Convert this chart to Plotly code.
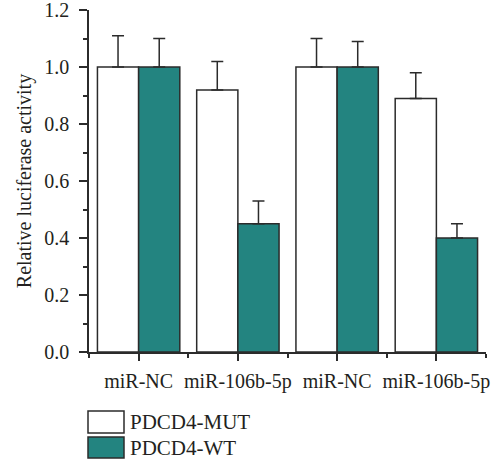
import plotly.graph_objects as go

categories = ["miR-NC", "miR-106b-5p", "miR-NC", "miR-106b-5p"]
mut_values = [1.0, 0.92, 1.0, 0.89]
mut_errors = [0.11, 0.10, 0.10, 0.09]
wt_values = [1.0, 0.45, 1.0, 0.40]
wt_errors = [0.10, 0.08, 0.09, 0.05]
series_names = ["PDCD4-MUT", "PDCD4-WT"]
y_ticks = [0.0, 0.2, 0.4, 0.6, 0.8, 1.0, 1.2]

TEAL = "#238480"
INK = "#231f20"
LINE = "#2b2b2b"
FONT = "Liberation Serif"

xpos = list(range(len(categories)))

fig = go.Figure()
for name, vals, errs, color in [
    (series_names[0], mut_values, mut_errors, "white"),
    (series_names[1], wt_values, wt_errors, TEAL),
]:
    fig.add_trace(go.Bar(
        x=xpos, y=vals, name=name, showlegend=False,
        marker=dict(color=color, line=dict(color=LINE, width=1.5)),
        error_y=dict(type="data", array=errs, arrayminus=[0] * len(errs),
                     symmetric=False, color=LINE, thickness=1.5, width=6),
    ))

W, H = 498, 464
L, R, T, B = 89, 12, 10, 112
pw, ph = W - L - R, H - T - B


def px_x(x):
    return (x - L) / pw


def px_y(y):
    return (H - B - y) / ph


# legend drawn as boxes + text
legend_items = [(series_names[0], "white", 411, 433), (series_names[1], TEAL, 437, 458)]
for name, color, y0, y1 in legend_items:
    fig.add_shape(type="rect", xref="paper", yref="paper",
                  x0=px_x(88), x1=px_x(124), y0=px_y(y1), y1=px_y(y0),
                  fillcolor=color, line=dict(color=LINE, width=1.5))
    fig.add_annotation(xref="paper", yref="paper", x=px_x(128), y=px_y((y0 + y1) / 2),
                       text=name, showarrow=False, xanchor="left", yanchor="middle",
                       font=dict(family=FONT, size=21, color=INK))

fig.update_layout(
    width=W, height=H,
    margin=dict(l=L, r=R, t=T, b=B, autoexpand=False),
    paper_bgcolor="white", plot_bgcolor="white",
    barmode="group", bargap=0.17, bargroupgap=0,
    font=dict(family=FONT, size=20, color=INK),
    xaxis=dict(
        range=[-0.5, 3.5], tickvals=xpos, ticktext=categories,
        ticks="outside", ticklen=7, tickwidth=1.5, tickcolor=LINE,
        showline=True, linecolor=LINE, linewidth=1.5,
        showgrid=False, zeroline=False, automargin=False,
        ticklabelstandoff=3, ticklabeloverflow="allow",
        minor=dict(tick0=0.5, dtick=1, ticks="outside", ticklen=4,
                   tickwidth=1.5, tickcolor=LINE, showgrid=False),
        tickfont=dict(family=FONT, size=20, color=INK),
    ),
    yaxis=dict(
        range=[0, 1.2004], tickvals=y_ticks, tickformat=".1f",
        ticks="outside", ticklen=8, tickwidth=1.5, tickcolor=LINE,
        showline=True, linecolor=LINE, linewidth=1.5,
        showgrid=False, zeroline=False, automargin=False,
        ticklabelstandoff=6, ticklabeloverflow="allow",
        minor=dict(tick0=0, dtick=0.1, ticks="outside", ticklen=4,
                   tickwidth=1.5, tickcolor=LINE, showgrid=False),
        tickfont=dict(family=FONT, size=20, color=INK),
        title=dict(text="Relative luciferase activity",
                   font=dict(family=FONT, size=20, color=INK), standoff=7),
    ),
)

# remove the browser's default 8px body margin so the figure sits at the page origin
fig.write_html("out.html", config={"displayModeBar": False},
               post_script="document.body.style.margin='0';")
